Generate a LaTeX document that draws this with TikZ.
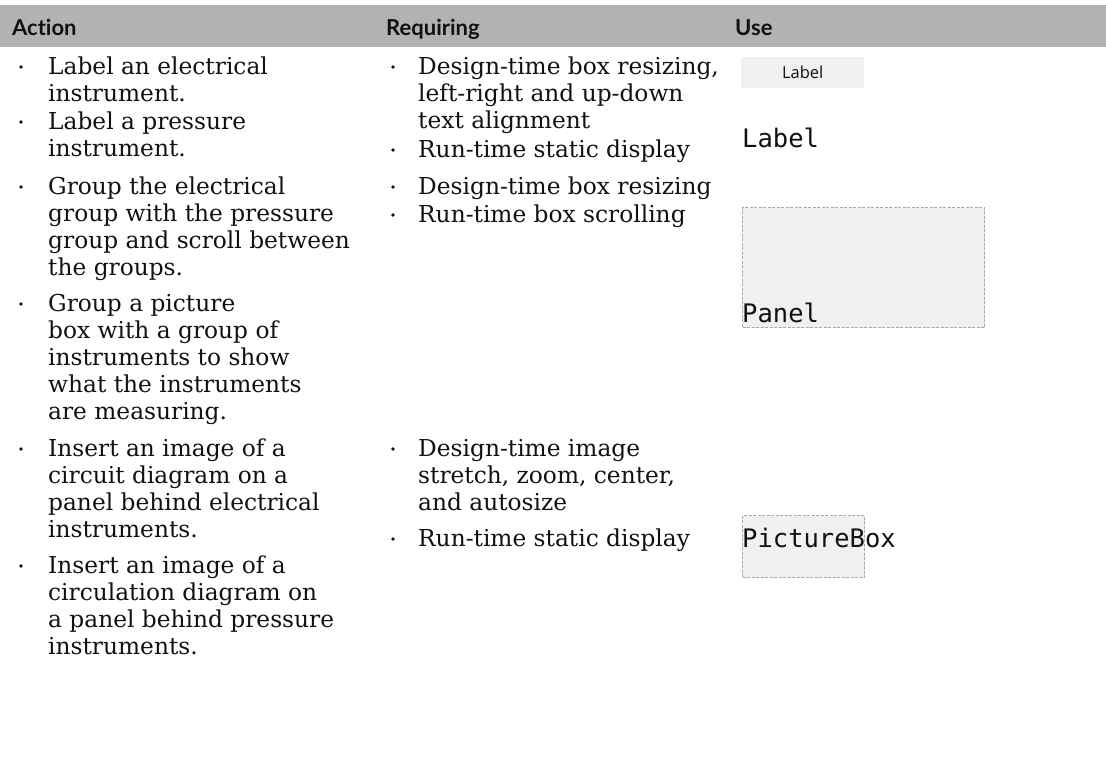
\documentclass[tikz,border=0pt]{standalone}
\usepackage{fontspec}
\setmainfont{DejaVu Serif}
\newfontfamily\hdfont[Ligatures=NoCommon]{Lato}
\newfontfamily\codefont{DejaVu Sans Mono}
\newfontfamily\uifont{Open Sans}
\definecolor{hdgrey}{HTML}{B2B2B2}
\definecolor{ctlfill}{HTML}{F0F0F0}
\definecolor{ctledge}{HTML}{A8A8A8}
\definecolor{ink}{HTML}{111111}
\tikzset{
  hd/.style={anchor=base west, inner sep=0pt, text=ink, font=\hdfont\bfseries\fontsize{22}{26}\selectfont},
  itm/.style={anchor=base west, inner sep=0pt, align=left, text=ink, font=\fontsize{23.3}{27}\selectfont},
  code/.style={anchor=base west, inner sep=0pt, text=ink, font=\codefont\fontsize{25.5}{28}\selectfont},
  ctl/.style={anchor=north west, inner sep=0pt, fill=ctlfill},
  dashctl/.style={ctl, draw=ctledge, line width=1.2pt, dash pattern=on 3pt off 1.5pt},
  bul/.style={fill=ink}
}
\begin{document}
\begin{tikzpicture}[x=1pt,y=-1pt]
\useasboundingbox (0,0) rectangle (1106,774);
% header
\fill[hdgrey] (0,5) rectangle (1106,47);
\node[hd] (hAction) at (12,35) {Action};
\node[hd] (hReq) at (386,35) {Requiring};
\node[hd] (hUse) at (735,35) {Use};
% column 1 (anchor = baseline of last line)
\node[itm] (a1) at (48,101) {Label an electrical\\instrument.};
\node[itm] (a2) at (48,156) {Label a pressure\\instrument.};
\node[itm] (a3) at (48,275) {Group the electrical\\group with the pressure\\group and scroll between\\the groups.};
\node[itm] (a4) at (48,419) {Group a picture\\box with a group of\\instruments to show\\what the instruments\\are measuring.};
\node[itm] (a5) at (48,537) {Insert an image of a\\circuit diagram on a\\panel behind electrical\\instruments.};
\node[itm] (a6) at (48,654) {Insert an image of a\\circulation diagram on\\a panel behind pressure\\instruments.};
\foreach \yy in {74,129,194,311,456,573} \fill[bul] (21,\yy-7) circle (1.8);
% column 2
\node[itm] (r1) at (418,128) {Design-time box resizing,\\left-right and up-down\\text alignment};
\node[itm] (r2) at (418,157) {Run-time static display};
\node[itm] (r3) at (418,194) {Design-time box resizing};
\node[itm] (r4) at (418,222) {Run-time box scrolling};
\node[itm] (r5) at (418,510) {Design-time image\\stretch, zoom, center,\\and autosize};
\node[itm] (r6) at (418,546) {Run-time static display};
\foreach \yy in {74,157,194,222,456,546} \fill[bul] (393,\yy-7) circle (1.8);
% column 3
\node[ctl, minimum width=123pt, minimum height=31pt] (labelctl) at (741,57) {};
\node[text=ink, font=\uifont\fontsize{16.5}{20}\selectfont, inner sep=0pt] (labelctltxt) at (labelctl.center) {Label};
\node[code] (cLabel) at (742,147) {Label};
\node[dashctl, minimum width=242pt, minimum height=120pt] (panelctl) at (742,207) {};
\node[code] (cPanel) at (742,322) {Panel};
\node[dashctl, minimum width=122pt, minimum height=62pt] (picctl) at (742,515) {};
\node[code] (cPic) at (742,547) {PictureBox};
\end{tikzpicture}
\end{document}
